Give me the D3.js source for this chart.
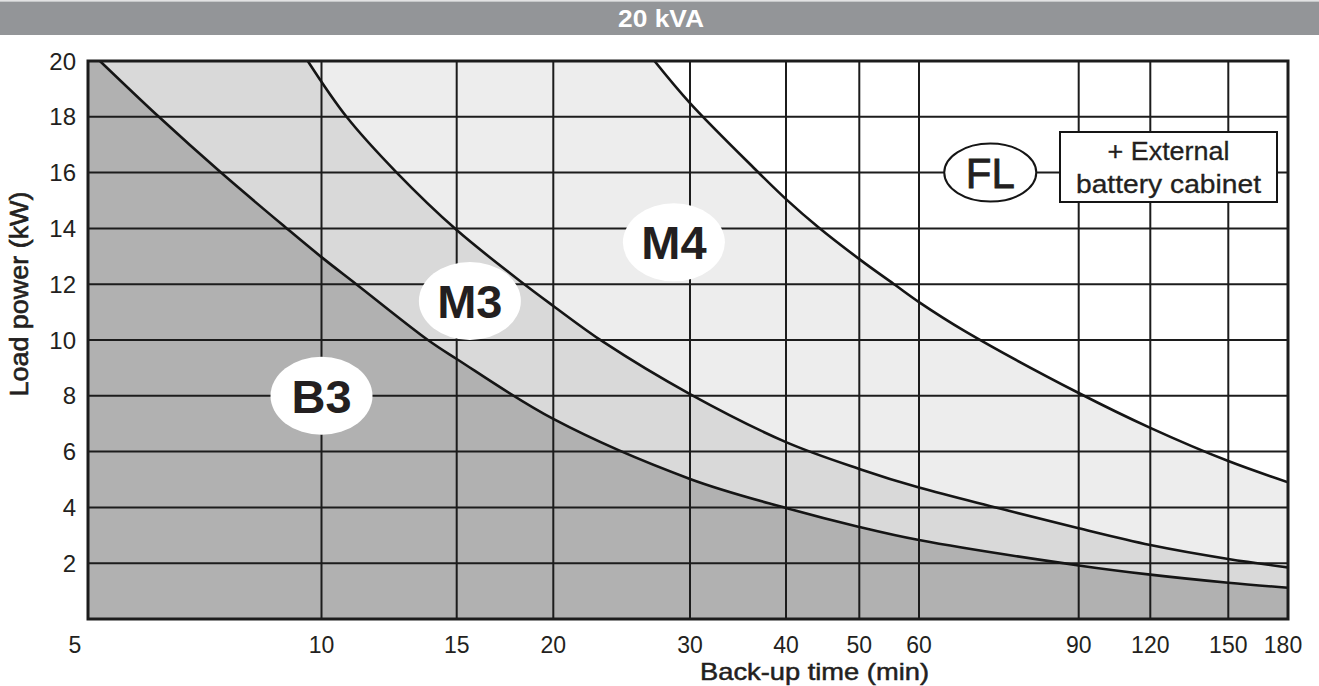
<!DOCTYPE html>
<html><head><meta charset="utf-8">
<script src="https://cdn.jsdelivr.net/npm/d3@7"></script>
<style>
html,body{margin:0;padding:0;background:#fff;}
svg{display:block;font-family:"Liberation Sans",Arial,Helvetica,sans-serif;}
</style></head><body>
<svg id="chart" width="1319" height="686"></svg>
<script>
// ---------- DATA ----------
const title = "20 kVA";
const xLabel = "Back-up time (min)";
const yLabel = "Load power (kW)";
const xTicks = [5, 10, 15, 20, 30, 40, 50, 60, 90, 120, 150, 180];
const yTicks = [2, 4, 6, 8, 10, 12, 14, 16, 18, 20];

const b3Time  = [5.18, 6.17, 7.42, 9.02, 10, 11.1, 13.76, 15, 20, 30, 40, 50, 60, 90, 120, 150, 180];
const b3Power = [20, 18, 16, 14, 12.97, 12, 10, 9.32, 7.17, 5.02, 3.98, 3.3, 2.83, 1.92, 1.59, 1.3, 1.12];

const m3Time  = [9.6, 10.78, 12.53, 15, 18.4, 20, 23.2, 30, 40, 50, 60, 73.7, 90, 120, 150, 180];
const m3Power = [20, 18, 16, 13.94, 11.97, 11.22, 9.93, 8.06, 6.34, 5.38, 4.71, 3.96, 3.25, 2.65, 2.15, 1.85];

const m4Time  = [27, 30, 36.5, 40, 44.1, 50, 55.8, 60, 67.4, 90, 120, 150, 180];
const m4Power = [20, 18.49, 16.11, 15.05, 14.05, 12.9, 11.97, 11.36, 10.32, 8.1, 6.85, 5.66, 4.9];

const zoneNames = ["M4", "M3", "B3"];
const zoneLabelTime  = [28.6, 15.6, 10];
const zoneLabelPower = [13.5, 11.4, 8.0];
const flLabel = "FL";
const flTime = 71.9, flPower = 16;
const boxLines = ["+ External", "battery cabinet"];

// ---------- LAYOUT ----------
const W = 1319, H = 686;
const P = {left: 88, right: 1288, top: 61, bottom: 619};
const xTickPx = [88, 321.5, 456.7, 553.3, 690, 786, 859.3, 919, 1078.7, 1150.3, 1228.3, 1288];
const zoneFills = ["#ededed", "#d9d9d9", "#b1b1b1"];
const ink = "#1c1c1c";
const textCol = "#231f20";

const svg = d3.select("#chart");
svg.append("rect").attr("width", W).attr("height", H).attr("fill", "#fff");

const x = d3.scaleLog().domain(xTicks).range(xTickPx);
const y = d3.scaleLinear().domain([0, 20]).range([P.bottom, P.top]);

// title bar
svg.append("rect").attr("x", 0).attr("y", 1.5).attr("width", W).attr("height", 33.5).attr("fill", "#939598");
svg.append("line").attr("x1", 0).attr("x2", W).attr("y1", 1).attr("y2", 1).attr("stroke", "#c4c5c7").attr("stroke-width", 1);
svg.append("text").attr("x", 661).attr("y", 27).attr("text-anchor", "middle")
  .attr("fill", "#fff").attr("font-weight", "bold").attr("font-size", 23)
  .attr("textLength", 86).attr("lengthAdjust", "spacingAndGlyphs").text(title);

// clip
svg.append("clipPath").attr("id", "plotClip").append("rect")
  .attr("x", P.left).attr("y", P.top).attr("width", P.right - P.left).attr("height", P.bottom - P.top);

const series = [
  {t: m4Time, p: m4Power},
  {t: m3Time, p: m3Power},
  {t: b3Time, p: b3Power}
].map(s => s.t.map((t, i) => [t, s.p[i]]));

const line = d3.line().x(d => x(d[0])).y(d => y(d[1])).curve(d3.curveCatmullRom.alpha(0.5));
const x0 = xTicks[0], x1 = xTicks[xTicks.length - 1];
const closeArea = `L${x(x1)},${y(0)}L${x(x0)},${y(0)}L${x(x0)},${y(20)}Z`;

const gPlot = svg.append("g").attr("clip-path", "url(#plotClip)");
series.forEach((pts, i) => {
  gPlot.append("path").attr("d", line(pts) + closeArea).attr("fill", zoneFills[i]);
});

// grid
const gGrid = svg.append("g").attr("stroke", ink).attr("stroke-width", 2);
gGrid.selectAll("line.v").data(xTicks.slice(1, -1)).join("line").attr("class", "v")
  .attr("x1", d => x(d)).attr("x2", d => x(d)).attr("y1", P.top).attr("y2", P.bottom);
gGrid.selectAll("line.h").data(yTicks.slice(0, -1)).join("line").attr("class", "h")
  .attr("x1", P.left).attr("x2", P.right).attr("y1", d => y(d)).attr("y2", d => y(d));

// curves
const gCurves = svg.append("g").attr("clip-path", "url(#plotClip)");
series.forEach(pts => {
  gCurves.append("path").attr("d", line(pts)).attr("fill", "none")
    .attr("stroke", "#151515").attr("stroke-width", 2.6);
});

// border
svg.append("rect").attr("x", P.left).attr("y", P.top).attr("width", P.right - P.left)
  .attr("height", P.bottom - P.top).attr("fill", "none").attr("stroke", ink).attr("stroke-width", 3);

// tick labels
svg.append("g").selectAll("text").data(xTicks).join("text")
  .attr("x", (d, i) => x(d) + (i === 0 ? -13 : i === xTicks.length - 1 ? -5 : 0))
  .attr("y", 653).attr("text-anchor", "middle").attr("font-size", 23).attr("fill", textCol)
  .text(d => d);
svg.append("g").selectAll("text").data(yTicks).join("text")
  .attr("x", 76).attr("y", d => y(d)).attr("dy", "0.36em").attr("text-anchor", "end")
  .attr("font-size", 24).attr("fill", textCol).text(d => d);

// axis titles (medium weight via thin stroke)
svg.append("text").attr("x", 700).attr("y", 680).attr("font-size", 24).attr("fill", textCol)
  .attr("stroke", textCol).attr("stroke-width", 0.5)
  .attr("textLength", 229).attr("lengthAdjust", "spacingAndGlyphs").text(xLabel);
svg.append("text").attr("transform", "translate(28,294) rotate(-90)").attr("text-anchor", "middle")
  .attr("font-size", 26).attr("fill", textCol).attr("stroke", textCol).attr("stroke-width", 0.6)
  .attr("textLength", 205).attr("lengthAdjust", "spacingAndGlyphs").text(yLabel);

// zone labels
zoneNames.forEach((n, i) => {
  const cx = x(zoneLabelTime[i]), cy = y(zoneLabelPower[i]);
  svg.append("ellipse").attr("cx", cx).attr("cy", cy).attr("rx", 51).attr("ry", 39).attr("fill", "#fff");
  svg.append("text").attr("x", cx).attr("y", cy).attr("dy", "0.36em").attr("text-anchor", "middle")
    .attr("font-size", 47).attr("font-weight", "bold").attr("fill", textCol).text(n);
});

// FL ellipse
const fx = x(flTime), fy = y(flPower);
svg.append("ellipse").attr("cx", fx).attr("cy", fy).attr("rx", 46).attr("ry", 29)
  .attr("fill", "#fff").attr("stroke", "#151515").attr("stroke-width", 2);
svg.append("text").attr("x", fx).attr("y", fy).attr("dy", "0.36em").attr("text-anchor", "middle")
  .attr("font-size", 42).attr("fill", textCol).attr("stroke", textCol).attr("stroke-width", 0.8)
  .text(flLabel);

// box
const bx = 1060, by = 132, bw = 217, bh = 70;
svg.append("rect").attr("x", bx).attr("y", by).attr("width", bw).attr("height", bh)
  .attr("fill", "#fff").attr("stroke", "#151515").attr("stroke-width", 2);
svg.append("text").attr("x", bx + bw / 2).attr("y", 160).attr("text-anchor", "middle")
  .attr("font-size", 25).attr("fill", textCol).attr("stroke", textCol).attr("stroke-width", 0.3)
  .attr("textLength", 122).attr("lengthAdjust", "spacingAndGlyphs").text(boxLines[0]);
svg.append("text").attr("x", bx + bw / 2).attr("y", 193).attr("text-anchor", "middle")
  .attr("font-size", 25).attr("fill", textCol).attr("stroke", textCol).attr("stroke-width", 0.3)
  .attr("textLength", 185).attr("lengthAdjust", "spacingAndGlyphs").text(boxLines[1]);
</script>
</body></html>
